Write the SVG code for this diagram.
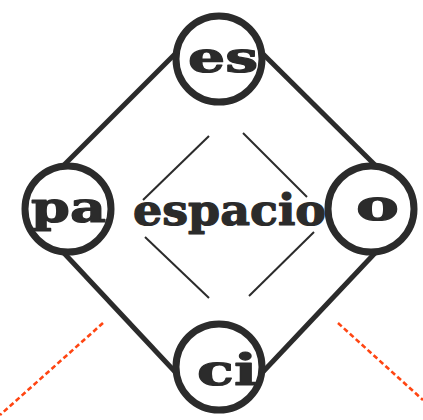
<svg xmlns="http://www.w3.org/2000/svg" width="423" height="420" viewBox="0 0 423 420">
<style>
.edge{fill:none;stroke:#2b2b2b;stroke-width:5}
.inner{fill:none;stroke:#2b2b2b;stroke-width:2}
.dash{fill:none;stroke:#ff4512;stroke-width:2.6;stroke-dasharray:5 3}
.ring{fill:#fff;stroke:#2b2b2b;stroke-width:7}
.lbl{font-family:"DejaVu Serif","Liberation Serif",serif;font-weight:bold;font-size:43px;fill:#2b2b2b;stroke:#2b2b2b;stroke-width:1.2;stroke-linejoin:round}
</style>
<rect width="423" height="420" fill="#fff"/>
<g id="connectors">
<line class="edge" x1="178" y1="51" x2="63" y2="166"/>
<line class="edge" x1="260" y1="51" x2="376" y2="166"/>
<line class="edge" x1="63" y1="252" x2="178" y2="375"/>
<line class="edge" x1="376" y1="252" x2="260" y2="375"/>
<line class="inner" x1="143" y1="200" x2="209" y2="136"/>
<line class="inner" x1="243" y1="133" x2="307" y2="197"/>
<line class="inner" x1="145" y1="237" x2="209" y2="298"/>
<line class="inner" x1="249" y1="296" x2="314" y2="232"/>
<line class="dash" x1="103" y1="323" x2="0" y2="415"/>
<line class="dash" x1="338" y1="323" x2="423" y2="400"/>
</g>
<g id="center"><text class="lbl" x="133" y="225" textLength="193" lengthAdjust="spacingAndGlyphs">espacio</text></g>
<g id="node-es"><circle class="ring" cx="219" cy="59" r="43"/><text class="lbl" x="188" y="72" textLength="70" lengthAdjust="spacingAndGlyphs">es</text></g>
<g id="node-pa"><circle class="ring" cx="68" cy="209" r="43"/><text class="lbl" x="31" y="222" textLength="75" lengthAdjust="spacingAndGlyphs">pa</text></g>
<g id="node-o"><circle class="ring" cx="371" cy="209" r="43"/><text class="lbl" x="356" y="220" textLength="43" lengthAdjust="spacingAndGlyphs">o</text></g>
<g id="node-ci"><circle class="ring" cx="219" cy="367" r="43"/><text class="lbl" x="197" y="385" textLength="60" lengthAdjust="spacingAndGlyphs">ci</text></g>
</svg>
